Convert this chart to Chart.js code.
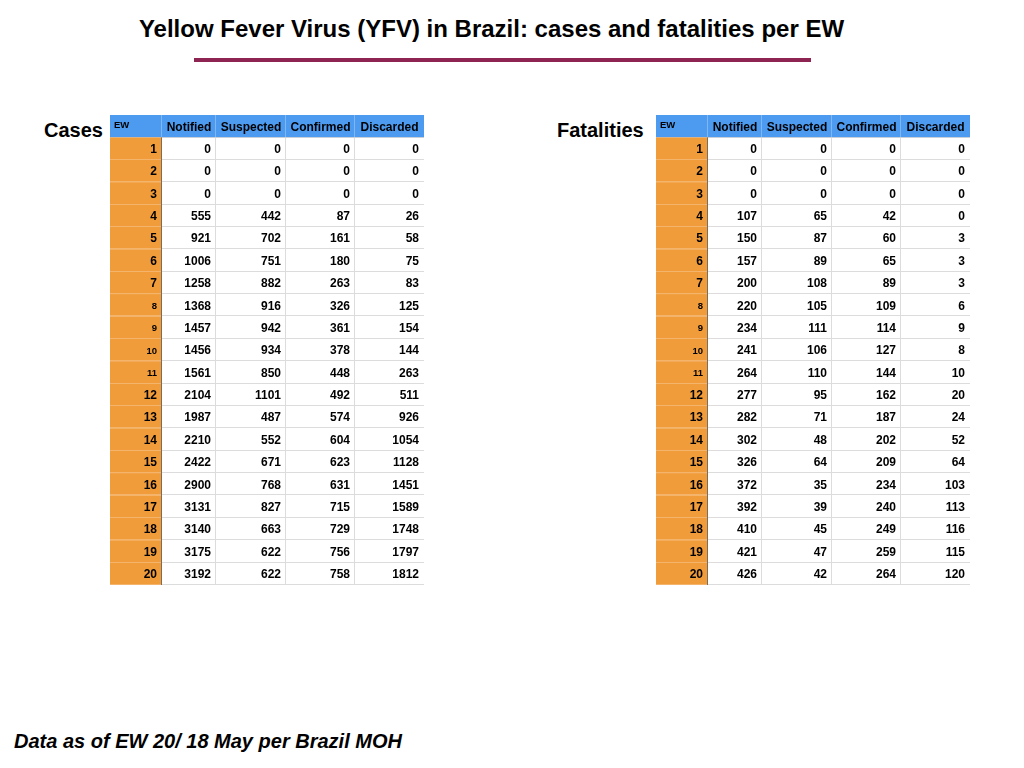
<!DOCTYPE html>
<html>
<head>
<meta charset="utf-8">
<script src="https://cdn.jsdelivr.net/npm/chart.js@4.4.0/dist/chart.umd.min.js"></script>
<style>
  html, body { margin: 0; padding: 0; background: #fff; }
  body { width: 1024px; height: 768px; position: relative; overflow: hidden;
         font-family: "Liberation Sans", Arial, Helvetica, sans-serif; color: #000; }
  #title { position: absolute; left: 0; width: 983px; top: 16px; text-align: center;
           font-size: 24px; line-height: 26px; font-weight: bold; white-space: nowrap; }
  #rule { position: absolute; left: 194px; width: 617px; top: 58px; height: 4px; background: #8E2452; }
  .side { position: absolute; font-size: 20px; line-height: 22px; font-weight: bold; white-space: nowrap; }
  #casesLbl { left: 44px; top: 119px; }
  #fatalLbl { left: 557px; top: 119px; }
  #note { position: absolute; left: 14px; top: 729px; font-size: 20px; line-height: 24px;
          font-weight: bold; font-style: italic; white-space: nowrap; }
  canvas { position: absolute; }
  #casesTable { left: 110px; top: 115px; }
  #fatalTable { left: 656px; top: 115px; }
</style>
</head>
<body>
<div id="title">Yellow Fever Virus (YFV) in Brazil: cases and fatalities per EW</div>
<div id="rule"></div>
<div class="side" id="casesLbl">Cases</div>
<div class="side" id="fatalLbl">Fatalities</div>
<canvas id="casesTable" width="314" height="470"></canvas>
<canvas id="fatalTable" width="314" height="470"></canvas>
<div id="note">Data as of EW 20/ 18 May per Brazil MOH</div>

<script>
// ---------------- data ----------------
const ew = ['1','2','3','4','5','6','7','8','9','10','11','12','13','14','15','16','17','18','19','20'];
const columns = ['EW', 'Notified', 'Suspected', 'Confirmed', 'Discarded'];

const casesNotified  = [0,0,0,555,921,1006,1258,1368,1457,1456,1561,2104,1987,2210,2422,2900,3131,3140,3175,3192];
const casesSuspected = [0,0,0,442,702,751,882,916,942,934,850,1101,487,552,671,768,827,663,622,622];
const casesConfirmed = [0,0,0,87,161,180,263,326,361,378,448,492,574,604,623,631,715,729,756,758];
const casesDiscarded = [0,0,0,26,58,75,83,125,154,144,263,511,926,1054,1128,1451,1589,1748,1797,1812];

const fatalNotified  = [0,0,0,107,150,157,200,220,234,241,264,277,282,302,326,372,392,410,421,426];
const fatalSuspected = [0,0,0,65,87,89,108,105,111,106,110,95,71,48,64,35,39,45,47,42];
const fatalConfirmed = [0,0,0,42,60,65,89,109,114,127,144,162,187,202,209,234,240,249,259,264];
const fatalDiscarded = [0,0,0,0,3,3,3,6,9,8,10,20,24,52,64,103,113,116,115,120];

// ---------------- styles ----------------
const colWidths = [52, 54, 70, 69, 69];            // relative column widths
const smallEwRows = ['8', '9', '10', '11'];        // rows whose EW label is set smaller
const headerBg = '#4C9BF1';
const ewBg = '#F19C3A';
const cellBg = '#FFFFFF';
const gridColor = '#DCDCDC';

const colEdges = colWidths.reduce((acc, w) => { acc.push(acc[acc.length - 1] + w); return acc; }, [0]);
const totalWidth = colEdges[colEdges.length - 1];

const tablePlugin = {
  id: 'tableCells',
  beforeDatasetsDraw(chart) {
    const { ctx, scales: { x, y } } = chart;
    const labels = y.getLabels();
    const n = labels.length;
    const band = Math.abs(y.getPixelForValue(1) - y.getPixelForValue(0));
    const rowTop = r => y.getPixelForValue(r) - band / 2;
    const rowBot = r => y.getPixelForValue(r) + band / 2;
    const colL = c => x.getPixelForValue(colEdges[c]);
    const nc = colWidths.length;
    ctx.save();
    for (let r = 0; r < n; r++) {
      for (let c = 0; c < nc; c++) {
        ctx.fillStyle = r === 0 ? headerBg : (c === 0 ? ewBg : cellBg);
        const x0 = colL(c), x1 = colL(c + 1);
        const y0 = rowTop(r), y1 = rowBot(r);
        ctx.fillRect(x0, y0, x1 - x0, y1 - y0);
      }
    }
    ctx.lineWidth = 1;
    const hline = (xa, xb, yy, col) => {
      ctx.strokeStyle = col; ctx.beginPath();
      const py = Math.round(yy) - 0.5;
      ctx.moveTo(xa, py); ctx.lineTo(xb, py); ctx.stroke();
    };
    const vline = (xx, ya, yb, col) => {
      ctx.strokeStyle = col; ctx.beginPath();
      const px = Math.round(xx) - 0.5;
      ctx.moveTo(px, ya); ctx.lineTo(px, yb); ctx.stroke();
    };
    for (let r = 1; r < n; r++) {
      const yy = rowBot(r);
      hline(colL(0), colL(1), yy, '#F5B46C');
      hline(colL(1), colL(nc), yy, gridColor);
    }
    hline(colL(1), colL(nc), rowBot(0) + 1, '#C9CFD8');
    for (let c = 1; c < nc; c++) {
      vline(colL(c), rowTop(0), rowBot(0), '#7FB6F4');
      vline(colL(c), rowBot(0), rowBot(n - 1), c === 1 ? '#7A6C5E' : gridColor);
    }
    ctx.restore();
  },
  afterDatasetsDraw(chart) {
    const { ctx, scales: { x, y } } = chart;
    const labels = y.getLabels();
    const colL = c => x.getPixelForValue(colEdges[c]);
    ctx.save();
    ctx.fillStyle = '#000';
    ctx.textBaseline = 'middle';
    const fam = '"Liberation Sans", Arial, Helvetica, sans-serif';
    const hy = y.getPixelForValue(0);
    columns.forEach((name, c) => {
      if (c === 0) {
        ctx.font = 'bold 9.5px ' + fam;
        ctx.textAlign = 'left';
        ctx.fillText(name, colL(0) + 4, hy - 0.5);
      } else {
        ctx.font = 'bold 12px ' + fam;
        ctx.textAlign = 'center';
        ctx.fillText(name, (colL(c) + colL(c + 1)) / 2, hy + 1);
      }
    });
    ctx.textAlign = 'right';
    for (let r = 1; r < labels.length; r++) {
      const lab = labels[r];
      ctx.font = (smallEwRows.includes(lab) ? 'bold 9.5px ' : 'bold 12px ') + fam;
      ctx.fillText(lab, colL(1) - 5, y.getPixelForValue(r) + 1);
    }
    ctx.font = 'bold 12px ' + fam;
    chart.data.datasets.forEach((ds, i) => {
      const meta = chart.getDatasetMeta(i);
      meta.data.forEach((el, j) => {
        ctx.fillText(String(ds.data[j].v), el.x - 5, el.y + 1);
      });
    });
    ctx.restore();
  }
};

function makeTable(canvasId, series) {
  const rowLabels = ['EW', ...ew];
  return new Chart(document.getElementById(canvasId), {
    type: 'scatter',
    data: {
      datasets: series.map((vals, i) => ({
        label: columns[i + 1],
        data: vals.map((v, r) => ({ x: colEdges[i + 2], y: ew[r], v: v })),
        pointRadius: 0,
        pointHoverRadius: 0,
        showLine: false
      }))
    },
    options: {
      responsive: false,
      animation: false,
      events: [],
      layout: { padding: 0 },
      plugins: { legend: { display: false }, tooltip: { enabled: false }, title: { display: false } },
      scales: {
        x: { type: 'linear', min: 0, max: totalWidth, display: false },
        y: { type: 'category', labels: rowLabels, offset: true, display: false }
      }
    },
    plugins: [tablePlugin]
  });
}

makeTable('casesTable', [casesNotified, casesSuspected, casesConfirmed, casesDiscarded]);
makeTable('fatalTable', [fatalNotified, fatalSuspected, fatalConfirmed, fatalDiscarded]);
</script>
</body>
</html>
